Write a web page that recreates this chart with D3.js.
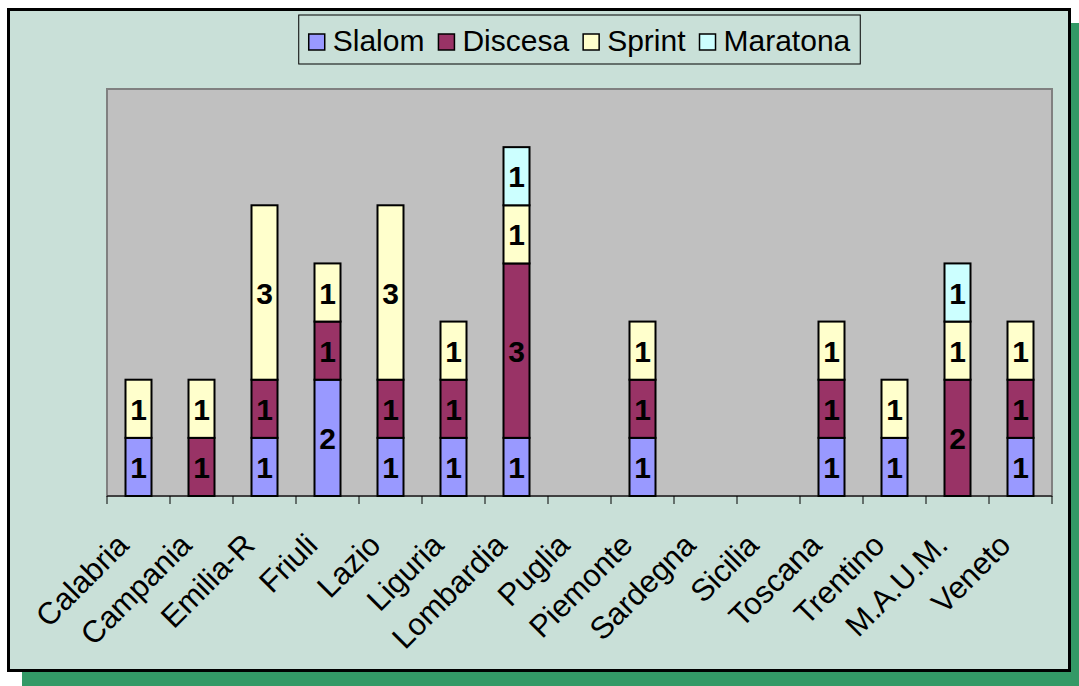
<!DOCTYPE html>
<html>
<head>
<meta charset="utf-8">
<script src="https://cdn.jsdelivr.net/npm/d3@7"></script>
<style>
  body { margin: 0; background: #ffffff; }
  svg text { font-family: Arial, "Liberation Sans", sans-serif; }
</style>
</head>
<body>
<div id="chart"></div>
<script>
// dati: gare per regione
const regioni = ["Calabria", "Campania", "Emilia-R", "Friuli", "Lazio", "Liguria", "Lombardia",
  "Puglia", "Piemonte", "Sardegna", "Sicilia", "Toscana", "Trentino", "M.A.U.M.", "Veneto"];
const serie = ["Slalom", "Discesa", "Sprint", "Maratona"];
const slalom   = [1, 0, 1, 2, 1, 1, 1, 0, 1, 0, 0, 1, 1, 0, 1];
const discesa  = [0, 1, 1, 1, 1, 1, 3, 0, 1, 0, 0, 1, 0, 2, 1];
const sprint   = [1, 1, 3, 1, 3, 1, 1, 0, 1, 0, 0, 1, 1, 1, 1];
const maratona = [0, 0, 0, 0, 0, 0, 1, 0, 0, 0, 0, 0, 0, 1, 0];
const colori = ["#9999ff", "#993366", "#ffffcc", "#ccffff"];

const W = 1079, H = 686;
const plot = {left: 107, top: 89, right: 1052, bottom: 496};

const svg = d3.select("#chart").append("svg")
  .attr("width", W).attr("height", H);

// ombra e cornice
svg.append("rect").attr("x", 22).attr("y", 23).attr("width", W - 22).attr("height", H - 23)
  .attr("fill", "#339966");
svg.append("rect").attr("x", 8.5).attr("y", 9.5).attr("width", 1061).attr("height", 661)
  .attr("fill", "#c9e0d8").attr("stroke", "#000").attr("stroke-width", 3);

// area del grafico
svg.append("rect").attr("x", plot.left).attr("y", plot.top)
  .attr("width", plot.right - plot.left).attr("height", plot.bottom - plot.top)
  .attr("fill", "#c0c0c0").attr("stroke", "#808080").attr("stroke-width", 2);

const x = d3.scaleBand().domain(regioni).range([plot.left, plot.right]).paddingInner(0).paddingOuter(0);
const y = d3.scaleLinear().domain([0, 7]).range([plot.bottom, plot.top]);
const bw = 26;

const tabella = regioni.map((r, i) => ({regione: r, Slalom: slalom[i], Discesa: discesa[i], Sprint: sprint[i], Maratona: maratona[i]}));
const stack = d3.stack().keys(serie)(tabella);

const g = svg.append("g");
stack.forEach((layer, k) => {
  layer.forEach(d => {
    if (d[1] - d[0] <= 0) return;
    const cx = x(d.data.regione) + x.bandwidth() / 2;
    g.append("rect")
      .attr("x", cx - bw / 2).attr("y", y(d[1]))
      .attr("width", bw).attr("height", y(d[0]) - y(d[1]))
      .attr("fill", colori[k]).attr("stroke", "#000").attr("stroke-width", 2);
    g.append("text")
      .attr("x", cx).attr("y", (y(d[0]) + y(d[1])) / 2 + 11)
      .attr("text-anchor", "middle")
      .attr("font-size", 30).attr("font-weight", "bold")
      .text(d[1] - d[0]);
  });
});

// asse x
svg.append("line").attr("x1", plot.left).attr("x2", plot.right)
  .attr("y1", plot.bottom).attr("y2", plot.bottom).attr("stroke", "#000").attr("stroke-width", 1);
const ticks = d3.range(regioni.length + 1).map(i => plot.left + i * x.step());
svg.selectAll(".tick").data(ticks).enter().append("line")
  .attr("x1", d => d).attr("x2", d => d)
  .attr("y1", plot.bottom).attr("y2", plot.bottom + 8)
  .attr("stroke", "#000");

svg.selectAll(".lab").data(regioni).enter().append("text")
  .attr("text-anchor", "end")
  .attr("font-size", 31)
  .attr("transform", d => `translate(${x(d) + x.bandwidth() / 2 - 8},${plot.bottom + 51}) rotate(-45)`)
  .text(d => d);

// legenda
const leg = svg.append("g");
const legBox = leg.append("rect").attr("fill", "#c9e0d8").attr("stroke", "#000").attr("stroke-width", 1);
let lx = 0;
serie.forEach((s, k) => {
  const it = leg.append("g").attr("transform", `translate(${lx},0)`);
  it.append("rect").attr("x", 0).attr("y", -16).attr("width", 16).attr("height", 16)
    .attr("fill", colori[k]).attr("stroke", "#000").attr("stroke-width", 1.5);
  const t = it.append("text").attr("x", 24).attr("y", 1).attr("font-size", 30).text(s);
  lx += 24 + t.node().getComputedTextLength() + 14;
});
const legW = lx - 14 + 20;
const legX = (plot.left + plot.right) / 2 - legW / 2;
leg.attr("transform", `translate(${legX + 10},50)`);
legBox.attr("x", -10).attr("y", -35).attr("width", legW).attr("height", 49);
</script>
</body>
</html>
